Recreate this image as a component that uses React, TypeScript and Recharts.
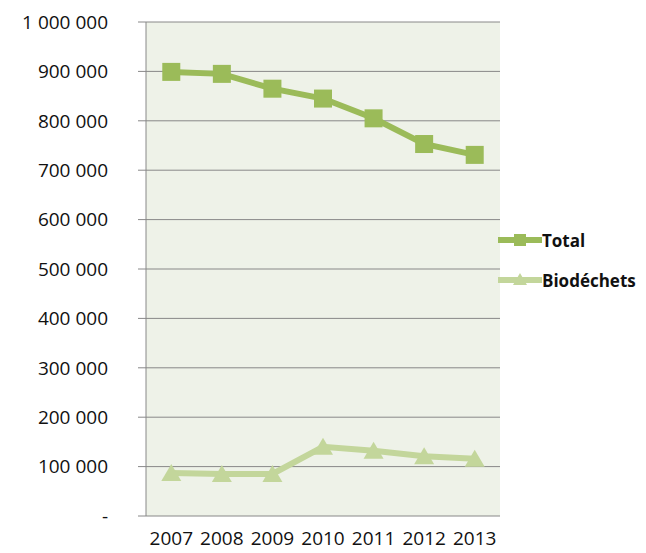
import React from 'react';
import { LineChart, Line, XAxis, YAxis, CartesianGrid, Legend } from 'recharts';

const years = ['2007', '2008', '2009', '2010', '2011', '2012', '2013'];
const totalValues = [899000, 895000, 865000, 845000, 805000, 753000, 731000];
const bioValues = [87000, 85000, 85000, 140000, 132000, 121000, 116000];
const yTicks = [0, 100000, 200000, 300000, 400000, 500000, 600000, 700000, 800000, 900000, 1000000];
const boundaryTicks = [0, 1, 2, 3, 4, 5, 6, 7];

const data = years.map((y, i) => ({ year: y, total: totalValues[i], bio: bioValues[i] }));

const TOTAL_COLOR = '#9BBB59';
const BIO_COLOR = '#C3D69B';
const GRID = '#888888';
const FONT = '"Open Sans", sans-serif';

const fmt = (v: number) => (v === 0 ? '-' : String(v).replace(/\B(?=(\d{3})+(?!\d))/g, ' '));

const SquareDot = (props: any) => {
  const { cx, cy } = props;
  if (cx == null || cy == null) return null;
  return <rect x={cx - 9} y={cy - 9} width={18} height={18} fill={TOTAL_COLOR} />;
};

const TriangleDot = (props: any) => {
  const { cx, cy } = props;
  if (cx == null || cy == null) return null;
  return <polygon points={`${cx},${cy - 9} ${cx + 10},${cy + 8} ${cx - 10},${cy + 8}`} fill={BIO_COLOR} />;
};

const LegendContent = () => (
  <div style={{ fontFamily: FONT, fontWeight: 700, fontSize: 17, color: '#111111' }}>
    <div style={{ display: 'flex', alignItems: 'center', height: 40 }}>
      <svg width={46} height={20}>
        <line x1={2} y1={10} x2={46} y2={10} stroke={TOTAL_COLOR} strokeWidth={6} />
        <rect x={18} y={4} width={12} height={12} fill={TOTAL_COLOR} />
      </svg>
      <span>Total</span>
    </div>
    <div style={{ display: 'flex', alignItems: 'center', height: 40 }}>
      <svg width={46} height={20}>
        <line x1={2} y1={10} x2={46} y2={10} stroke={BIO_COLOR} strokeWidth={6} />
        <polygon points="24,3 31,15 17,15" fill={BIO_COLOR} />
      </svg>
      <span>Biodéchets</span>
    </div>
  </div>
);

export default function App() {
  return (
    <LineChart width={638} height={545} data={data} margin={{ top: 14, right: 146, bottom: 0, left: 0 }}>
      <CartesianGrid vertical={false} stroke={GRID} fill="#EEF2E8" yAxisId="left" />
      <XAxis
        xAxisId="bounds"
        type="number"
        domain={[0, 7]}
        ticks={boundaryTicks}
        tick={false}
        tickSize={7}
        height={0}
        stroke={GRID}
        allowDataOverflow
      />
      <XAxis
        xAxisId="cat"
        dataKey="year"
        scale="band"
        height={37}
        axisLine={false}
        tickLine={false}
        tickMargin={10}
        tick={{ fontFamily: FONT, fontSize: 19, fill: '#111111' }}
        interval={0}
      />
      <YAxis
        yAxisId="left"
        domain={[0, 1000000]}
        ticks={yTicks}
        tickFormatter={fmt}
        width={138}
        tickSize={8}
        tickMargin={30}
        stroke={GRID}
        tick={{ fontFamily: FONT, fontSize: 19, fill: '#111111' }}
        interval={0}
      />
      <YAxis yAxisId="right" orientation="right" width={0} tick={false} tickLine={false} stroke="#bbbbbb" domain={[0, 1000000]} />
      <Legend
        layout="vertical"
        align="center"
        verticalAlign="middle"
        content={<LegendContent />}
        wrapperStyle={{ left: 488, top: 212, width: 150 }}
      />
      <Line
        xAxisId="cat"
        yAxisId="left"
        dataKey="total"
        name="Total"
        stroke={TOTAL_COLOR}
        strokeWidth={6}
        dot={<SquareDot />}
        activeDot={false}
        isAnimationActive={false}
      />
      <Line
        xAxisId="cat"
        yAxisId="left"
        dataKey="bio"
        name="Biodéchets"
        stroke={BIO_COLOR}
        strokeWidth={6}
        dot={<TriangleDot />}
        activeDot={false}
        isAnimationActive={false}
      />
    </LineChart>
  );
}
